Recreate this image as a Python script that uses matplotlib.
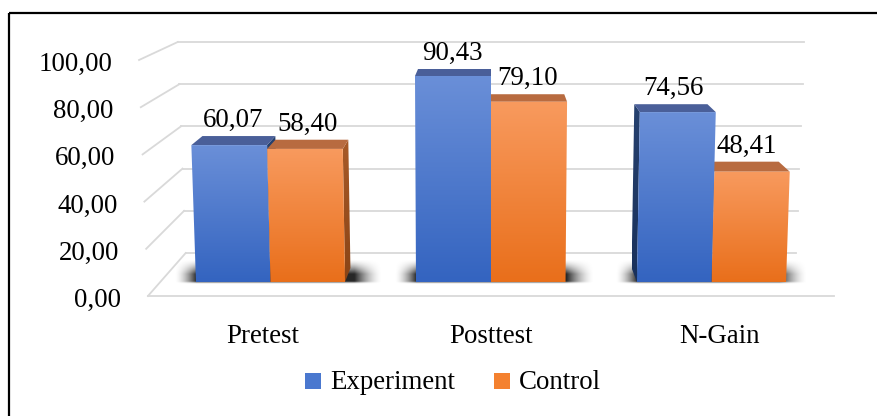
import numpy as np
import matplotlib.pyplot as plt
from matplotlib.patches import Polygon, Rectangle
from matplotlib.colors import to_rgb

# data
categories = ['Pretest', 'Posttest', 'N-Gain']
experiment = [60.07, 90.43, 74.56]
control = [58.40, 79.10, 48.41]
series_names = ['Experiment', 'Control']
y_ticks = [0, 20, 40, 60, 80, 100]
y_tick_labels = ['0,00', '20,00', '40,00', '60,00', '80,00', '100,00']

plt.rcParams['font.family'] = ['Liberation Serif', 'DejaVu Serif']
FS = 19.4

# look of the fake 3D box (screen pixels)
CX = 491       # screen x of the middle category
SX = 228.7     # px per category at the floor front
Y0 = 296       # screen y of value 0 at floor front
KX = 0.11      # horizontal shrink toward the back wall
KT = 0.00026   # slight lean of the verticals
BAR_W = 0.338
D_FRONT, D_BACK = 0.326, 0.65

front_cols = [('#6a8fd8', '#3464c0'), ('#f89a5e', '#e96f1b')]
top_cols = ['#4a5f99', '#b86b40']
side_cols = [('#26416f', '#19305a'), ('#a85a28', '#8a4416')]
legend_cols = ['#4a78cf', '#f4812f']
legend_x = [305, 494]
grid_col = '#d9d9d9'


def proj(x, v, d):
    sx = CX + x * SX * (1 - KX * d) * (1 + KT * v)
    sy = Y0 - 43 * d - v * (2.36 - 0.25 * d)
    return sx, sy


def grad_poly(ax, pts, c_top, c_bot, z):
    poly = Polygon(pts, closed=True, fc='none', ec='none', zorder=z)
    ax.add_patch(poly)
    pts = np.array(pts)
    t = np.linspace(0, 1, 64)[:, None]
    img = (np.array(to_rgb(c_top)) * (1 - t) + np.array(to_rgb(c_bot)) * t)[:, None, :]
    # y axis is inverted: row 0 goes to the smaller y (top of screen)
    im = ax.imshow(img, extent=(pts[:, 0].min(), pts[:, 0].max(),
                                pts[:, 1].max(), pts[:, 1].min()),
                   aspect='auto', interpolation='bilinear', zorder=z)
    im.set_clip_path(poly)


def shadow(ax, left, right, top, bot):
    # blurred dark patch lying on the floor behind the bars
    exl, exr, ey = 22, 28, 9
    xs = np.linspace(left - exl, right + exr, 200)
    ys = np.linspace(top - ey, bot + 2, 60)
    fx = np.clip(np.minimum((xs - (left - exl)) / exl, ((right + exr) - xs) / exr), 0, 1)
    fy = np.clip((ys - (top - ey)) / (ey + 6), 0, 1)
    fy = fy * np.clip((bot + 2 - ys) / 2.5, 0, 1)
    a = (fy[:, None] ** 1.5) * (fx[None, :] ** 1.7) * 0.85
    img = np.zeros((len(ys), len(xs), 4))
    img[..., 3] = a
    ax.imshow(img, extent=(xs[0], xs[-1], ys[-1], ys[0]), aspect='auto',
              interpolation='bilinear', zorder=2)


fig = plt.figure(figsize=(8.78, 4.16), dpi=100)
ax = fig.add_axes([0, 0, 1, 1])
ax.set_xlim(0, 878)
ax.set_ylim(416, 0)
ax.axis('off')

# gridlines: back wall, left wall, floor front
for v, lab in zip(y_ticks, y_tick_labels):
    b0, b1 = proj(-1.5, v, 1), proj(1.5, v, 1)
    f0 = proj(-1.5, v, 0)
    ax.plot([b0[0], b1[0]], [b0[1], b1[1]], color=grid_col, lw=1.3, zorder=1)
    ax.plot([f0[0], b0[0]], [f0[1], b0[1]], color=grid_col, lw=1.3, zorder=1)
    ax.text(f0[0] - 27, f0[1] + 11, lab, ha='right', va='baseline', fontsize=FS)
p0, p1 = proj(-1.5, 0, 0), proj(1.5, 0, 0)
ax.plot([p0[0], p1[0]], [p0[1], p1[1]], color=grid_col, lw=1.3, zorder=1)

values = [experiment, control]
for i, cat in enumerate(categories):
    c = i - 1
    a = proj(c - BAR_W, 0, D_FRONT)
    b = proj(c + BAR_W, 0, D_BACK)
    shadow(ax, min(a[0], b[0]), max(a[0], b[0]) + 4, b[1], a[1])
    # bars, the one farther from the middle first
    order = [0, 1] if c <= 0 else [1, 0]
    for z, j in enumerate(order):
        v = values[j][i]
        x0 = c - BAR_W + j * BAR_W
        x1 = x0 + BAR_W
        zz = 3 + z * 0.1
        if x1 < -1e-6:
            side = [proj(x1, 0, D_FRONT), proj(x1, 0, D_BACK),
                    proj(x1, v, D_BACK), proj(x1, v, D_FRONT)]
            grad_poly(ax, side, side_cols[j][0], side_cols[j][1], zz)
        if x0 > 1e-6:
            side = [proj(x0, 0, D_FRONT), proj(x0, 0, D_BACK),
                    proj(x0, v, D_BACK), proj(x0, v, D_FRONT)]
            grad_poly(ax, side, side_cols[j][0], side_cols[j][1], zz)
        topf = [proj(x0, v, D_FRONT), proj(x1, v, D_FRONT),
                proj(x1, v, D_BACK), proj(x0, v, D_BACK)]
        ax.add_patch(Polygon(topf, closed=True, fc=top_cols[j], ec='none', zorder=zz))
        front = [proj(x0, 0, D_FRONT), proj(x1, 0, D_FRONT),
                 proj(x1, v, D_FRONT), proj(x0, v, D_FRONT)]
        grad_poly(ax, front, front_cols[j][0], front_cols[j][1], zz)
        lx = (topf[0][0] + topf[2][0]) / 2
        ax.text(lx, topf[3][1] - 9, f'{v:.2f}'.replace('.', ','),
                ha='center', va='baseline', fontsize=FS, zorder=10)
    cx, _ = proj(c, 0, 0)
    ax.text(cx, 343, cat, ha='center', va='baseline', fontsize=FS)

# legend
for name, col, lx in zip(series_names, legend_cols, legend_x):
    ax.add_patch(Rectangle((lx, 373), 16, 16, fc=col, ec='none'))
    ax.text(lx + 25, 389, name, ha='left', va='baseline', fontsize=FS)

# outer frame
ax.add_patch(Rectangle((9, 12.5), 900, 420, fill=False, ec='black', lw=1.6, zorder=20))

fig.savefig('out.png', dpi=100)
